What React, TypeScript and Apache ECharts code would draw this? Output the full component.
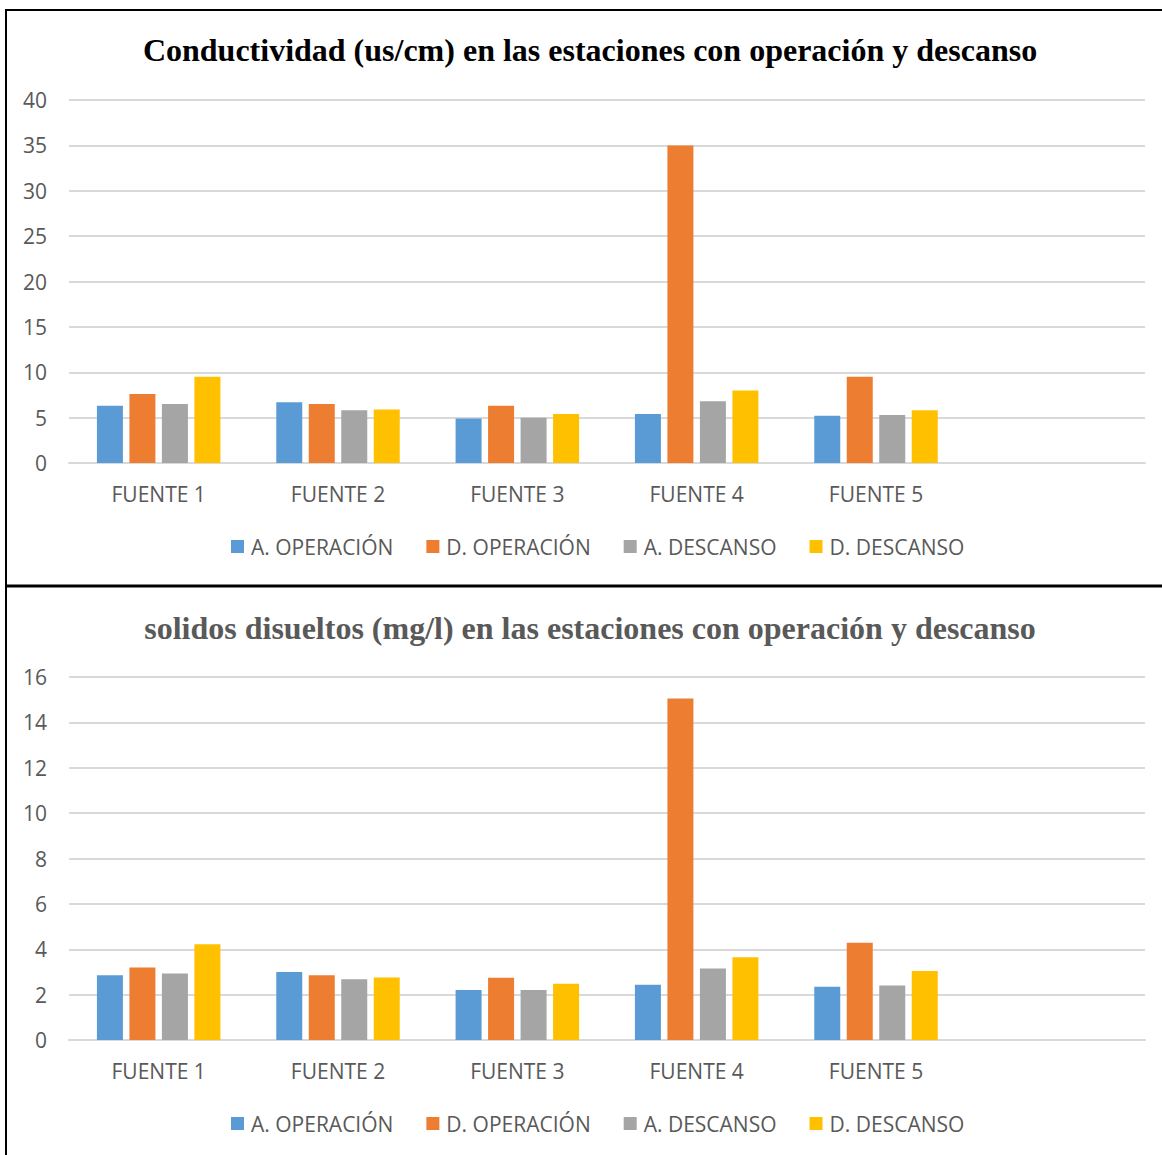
import React, { useEffect, useRef } from "react";
import * as echarts from "echarts";

const categories = ["FUENTE 1", "FUENTE 2", "FUENTE 3", "FUENTE 4", "FUENTE 5", ""];
const seriesNames = ["A. OPERACIÓN", "D. OPERACIÓN", "A. DESCANSO", "D. DESCANSO"];
const colors = ["#5B9BD5", "#ED7D31", "#A5A5A5", "#FFC000"];

// Conductividad (us/cm)
const condAOperacion = [6.3, 6.7, 4.9, 5.4, 5.2];
const condDOperacion = [7.6, 6.5, 6.3, 35.0, 9.5];
const condADescanso = [6.5, 5.8, 5.0, 6.8, 5.3];
const condDDescanso = [9.5, 5.9, 5.4, 8.0, 5.8];

// Sólidos disueltos (mg/l)
const sdAOperacion = [2.85, 3.0, 2.2, 2.43, 2.35];
const sdDOperacion = [3.2, 2.85, 2.74, 15.05, 4.29];
const sdADescanso = [2.93, 2.68, 2.2, 3.15, 2.4];
const sdDDescanso = [4.22, 2.76, 2.48, 3.65, 3.04];

const condTicks = { min: 0, max: 40, interval: 5 };
const sdTicks = { min: 0, max: 16, interval: 2 };

const titles = [
  "Conductividad (us/cm) en las estaciones con operación y descanso",
  "solidos disueltos (mg/l) en las estaciones con operación y descanso",
];

const labelFont = "'Open Sans', sans-serif";
const gridColor = "#D9D9D9";
const textColor = "#595959";

export default function App() {
  const ref = useRef<HTMLDivElement>(null);

  useEffect(() => {
    if (!ref.current) return;
    const chart = echarts.init(ref.current, undefined, { renderer: "svg" });

    const grids = [
      { left: 69, right: 17, top: 100, height: 363 },
      { left: 69, right: 17, top: 677, height: 363 },
    ];
    const ticks = [condTicks, sdTicks];
    const data = [
      [condAOperacion, condDOperacion, condADescanso, condDDescanso],
      [sdAOperacion, sdDOperacion, sdADescanso, sdDDescanso],
    ];

    const series: any[] = [];
    data.forEach((group, gi) => {
      group.forEach((vals, si) => {
        series.push({
          type: "bar",
          name: seriesNames[si],
          xAxisIndex: gi,
          yAxisIndex: gi,
          data: vals,
          barWidth: 26,
          barGap: "25%",
          itemStyle: { color: colors[si] },
        });
      });
    });

    chart.setOption({
      animation: false,
      backgroundColor: "#FFFFFF",
      color: colors,
      title: titles.map((t, i) => ({
        text: t,
        left: 585,
        top: i === 0 ? 29 : 607,
        textAlign: "center",
        textStyle: {
          fontFamily: "'Liberation Serif', 'Times New Roman', serif",
          fontWeight: "bold",
          fontSize: 32,
          color: i === 0 ? "#000000" : "#595959",
        },
      })),
      legend: [0, 1].map((i) => ({
        data: seriesNames,
        left: 231,
        top: i === 0 ? 536 : 1113,
        padding: 0,
        itemWidth: 13,
        itemHeight: 13,
        itemGap: 33,
        icon: "rect",
        textStyle: {
          fontFamily: labelFont,
          fontSize: 21,
          color: textColor,
          padding: [0, 0, 0, 2],
        },
      })),
      grid: grids,
      xAxis: [0, 1].map((i) => ({
        type: "category",
        gridIndex: i,
        data: categories,
        axisTick: { show: false },
        axisLine: { lineStyle: { color: gridColor, width: 2 } },
        axisLabel: {
          fontFamily: labelFont,
          fontSize: 21,
          color: textColor,
          margin: 20,
        },
      })),
      yAxis: [0, 1].map((i) => ({
        type: "value",
        gridIndex: i,
        min: ticks[i].min,
        max: ticks[i].max,
        interval: ticks[i].interval,
        axisLine: { show: false },
        axisTick: { show: false },
        splitLine: { lineStyle: { color: gridColor, width: 2 } },
        axisLabel: {
          fontFamily: labelFont,
          fontSize: 21,
          color: textColor,
          margin: 22,
        },
      })),
      series,
      graphic: [
        { type: "line", shape: { x1: 5, y1: 10, x2: 1162, y2: 10 }, style: { stroke: "#000", lineWidth: 2 } },
        { type: "line", shape: { x1: 6, y1: 9, x2: 6, y2: 1155 }, style: { stroke: "#000", lineWidth: 2 } },
        { type: "line", shape: { x1: 5, y1: 586, x2: 1162, y2: 586 }, style: { stroke: "#000", lineWidth: 3 } },
      ],
    });

    return () => chart.dispose();
  }, []);

  return (
    <div
      ref={ref}
      style={{ position: "absolute", left: 0, top: 0, width: 1162, height: 1155 }}
    />
  );
}
